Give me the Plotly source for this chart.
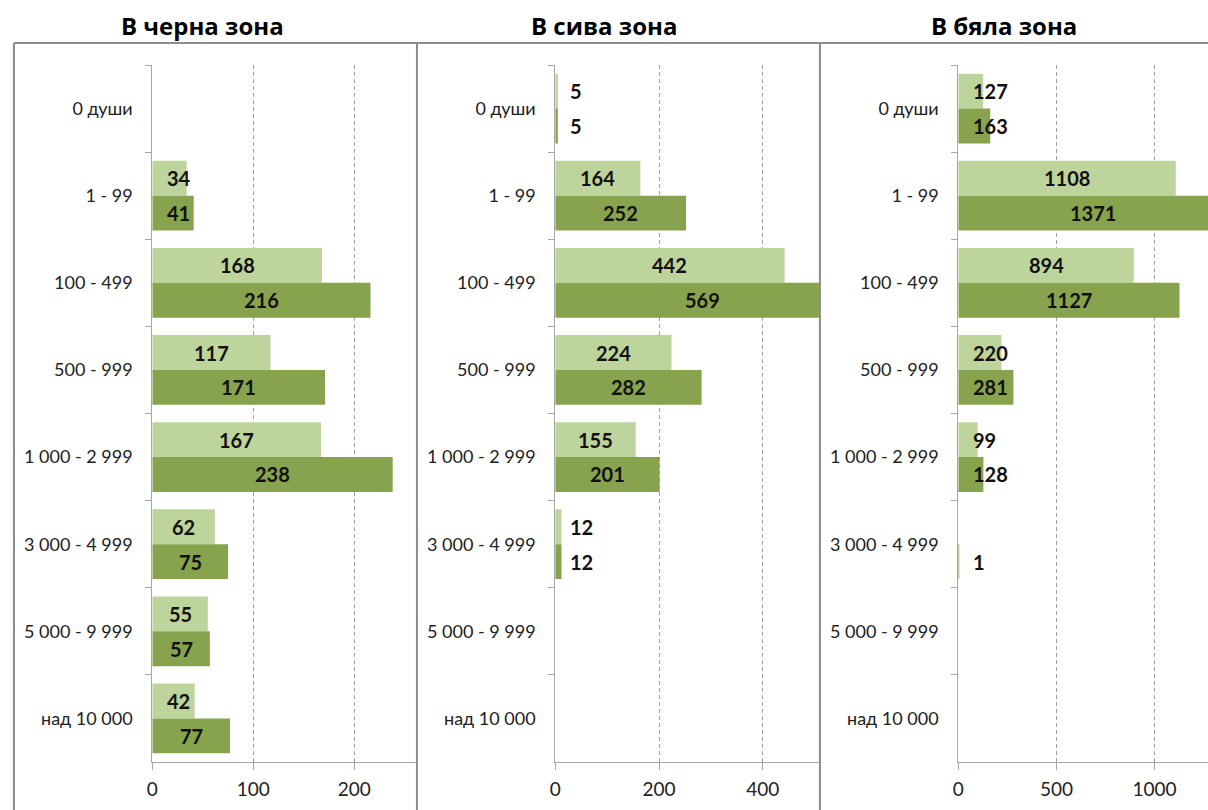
import plotly.graph_objects as go

# Settlement size groups (population)
categories = ["0 души", "1 - 99", "100 - 499", "500 - 999",
              "1 000 - 2 999", "3 000 - 4 999", "5 000 - 9 999", "над 10 000"]

panel_titles = ["В черна зона", "В сива зона", "В бяла зона"]

# Light series / dark series for each zone (None = no bar)
black_light = [None, 34, 168, 117, 167, 62, 55, 42]
black_dark = [None, 41, 216, 171, 238, 75, 57, 77]
grey_light = [5, 164, 442, 224, 155, 12, None, None]
grey_dark = [5, 252, 569, 282, 201, 12, None, None]
white_light = [127, 1108, 894, 220, 99, None, None, None]
white_dark = [163, 1371, 1127, 281, 128, 1, None, None]

x_max = [262, 510, 1272]
x_dtick = [100, 200, 500]

W, H = 1208, 810
LIGHT = "#BED49D"
DARK = "#88A34D"
FRAME = "#8C8C8C"
AXIS = "#A6A6A6"
FONT = "Lato, 'Open Sans', sans-serif"
TITLE_FONT = "'Open Sans', sans-serif"

# pixel geometry of the three panels
frame_left = [8, 413, 818]
plot_px = [(147, 413), (552, 818), (957, 1208)]
plot_top, plot_bottom = 65, 762
title_cx = [197, 601, 1003]

y_dom = [1 - plot_bottom / H, 1 - plot_top / H]
band_px = (plot_bottom - plot_top) / len(categories)
BARGAP = 0.2
half_bar_px = band_px * (1 - BARGAP) / 4

series = [(black_light, black_dark), (grey_light, grey_dark), (white_light, white_dark)]

fig = go.Figure()
annotations = []
layout_axes = {}

for i, (light, dark) in enumerate(series):
    xa = "x" if i == 0 else f"x{i+1}"
    ya = "y" if i == 0 else f"y{i+1}"
    for vals, col in ((light, LIGHT), (dark, DARK)):
        fig.add_trace(go.Bar(
            y=categories, x=vals, orientation="h",
            marker=dict(color=col, line=dict(width=0)),
            xaxis=xa, yaxis=ya, showlegend=False, hoverinfo="x+y",
        ))

    x0, x1 = plot_px[i]
    ppu = (x1 - x0) / x_max[i]
    key = "" if i == 0 else str(i + 1)
    layout_axes["xaxis" + key] = dict(
        domain=[x0 / W, x1 / W], range=[0, x_max[i]], anchor=ya,
        dtick=x_dtick[i], tick0=0,
        showline=True, linecolor=AXIS, linewidth=1,
        ticks="outside", ticklen=7, tickcolor=AXIS,
        showgrid=True, gridcolor="#A0A0A0", griddash="4px,3px", gridwidth=1,
        zeroline=False, tickfont=dict(family=FONT, size=19, color="#222"),
        ticklabelstandoff=3, fixedrange=True,
    )
    layout_axes["yaxis" + key] = dict(
        domain=y_dom, anchor=xa, type="category",
        categoryorder="array", categoryarray=categories, autorange="reversed",
        showline=True, linecolor=AXIS, linewidth=1,
        ticks="outside", ticklen=6, tickcolor=AXIS, tickson="boundaries",
        showgrid=False, zeroline=False,
        tickfont=dict(family=FONT, size=18, color="#222"),
        ticklabelstandoff=15, fixedrange=True,
    )

    # value labels: centred on the bar, pushed right when the bar is too short
    for vals, shift in ((light, half_bar_px), (dark, -half_bar_px)):
        for cat, v in zip(categories, vals):
            if v is None:
                continue
            text = str(v)
            tw = len(text) * 11.6
            pad = 13
            if (v * ppu - tw) / 2 >= pad:
                ax, anchor = v / 2, "center"
            else:
                ax, anchor = pad / ppu, "left"
            annotations.append(dict(
                x=ax, y=cat, xref=xa, yref=ya, xanchor=anchor, yanchor="middle",
                yshift=shift, text=text, showarrow=False,
                font=dict(family=FONT, size=20, color="#111", weight="bold"),
            ))

    annotations.append(dict(
        x=title_cx[i] / W, y=1 - 25 / H, xref="paper", yref="paper",
        xanchor="center", yanchor="middle", text=panel_titles[i], showarrow=False,
        font=dict(family=TITLE_FONT, size=24, color="#000", weight="bold"),
    ))

# panel frames
shapes = [dict(type="line", xref="paper", yref="paper",
               x0=frame_left[0] / W, x1=1, y0=1 - 43 / H, y1=1 - 43 / H,
               line=dict(color=FRAME, width=2))]
for fl in frame_left:
    shapes.append(dict(type="line", xref="paper", yref="paper",
                       x0=fl / W, x1=fl / W, y0=0, y1=1 - 43 / H,
                       line=dict(color=FRAME, width=2)))

fig.update_layout(
    width=W, height=H, margin=dict(l=0, r=0, t=0, b=0),
    paper_bgcolor="white", plot_bgcolor="rgba(0,0,0,0)",
    barmode="group", bargap=BARGAP, bargroupgap=0,
    annotations=annotations, shapes=shapes,
    font=dict(family=FONT), showlegend=False,
    **layout_axes,
)

fig.write_html("out.html")
